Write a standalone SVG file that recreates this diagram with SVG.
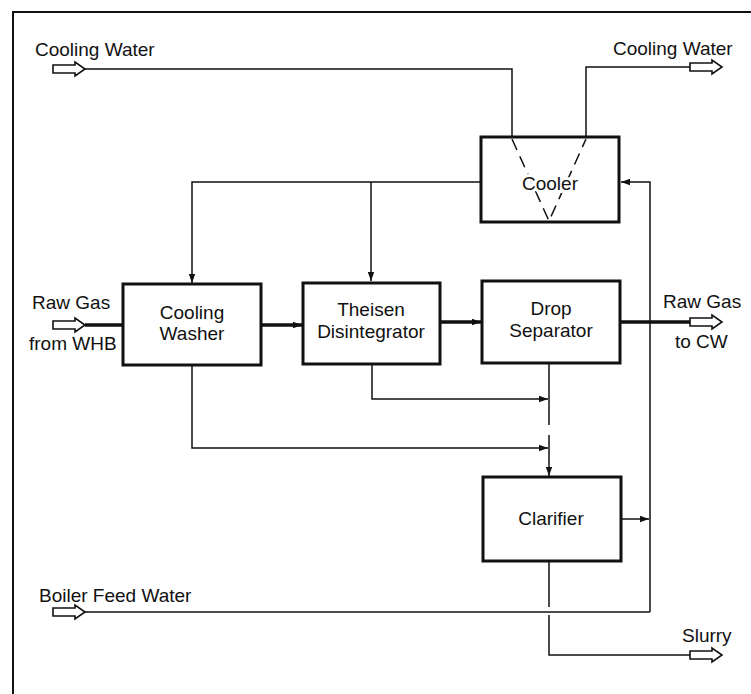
<svg xmlns="http://www.w3.org/2000/svg" width="751" height="694" viewBox="0 0 751 694">
<style>
text{font-family:"Liberation Sans",Arial,sans-serif;font-size:19px;fill:#111}
.c{text-anchor:middle}
.halo{stroke:#fff;stroke-width:6;paint-order:stroke}
.box{fill:#fff;stroke:#111;stroke-width:3}
.ln{fill:none;stroke:#111;stroke-width:1.5}
.gas{fill:none;stroke:#111;stroke-width:3.5}
.hol{fill:#fff;stroke:#111;stroke-width:1.6;stroke-linejoin:miter}
.dash{fill:none;stroke:#111;stroke-width:1.5;stroke-dasharray:12 7}
</style>
<defs>
<marker id="ah" markerWidth="10" markerHeight="8" refX="9" refY="4" orient="auto" markerUnits="userSpaceOnUse">
<path d="M0,0.8 L9,4 L0,7.2 Z" fill="#111"/>
</marker>
<path id="hollow" d="M0,-4 H22 V-7 L32,0 L22,7 V4 H0 Z"/>
</defs>
<rect width="751" height="694" fill="#fff"/>
<g id="frame">
<path d="M13,694 V12 H751" fill="none" stroke="#111" stroke-width="2"/>
</g>
<g id="connectors">
<use href="#hollow" x="53" y="69" class="hol"/>
<path class="ln" d="M85,69 H512 V137"/>
<path class="ln" d="M586,137 V67 H690"/>
<use href="#hollow" x="690" y="67" class="hol"/>
<path class="ln" d="M481,182 H192 V283" marker-end="url(#ah)"/>
<path class="ln" d="M371,182 V281" marker-end="url(#ah)"/>
<path class="ln" d="M650,612 V182 H621" marker-end="url(#ah)"/>
<use href="#hollow" x="53" y="325" class="hol"/>
<path class="gas" d="M85,325 H123"/>
<path class="gas" d="M261,325 H302" marker-end="url(#ah)"/>
<path class="gas" d="M440,322 H481" marker-end="url(#ah)"/>
<path class="gas" d="M620,322 H690"/>
<use href="#hollow" x="690" y="322" class="hol"/>
<path class="ln" d="M372,364 V399 H548" marker-end="url(#ah)"/>
<path class="ln" d="M192,365 V448 H548" marker-end="url(#ah)"/>
<path class="ln" d="M549,363 V425 M549,435 V476" marker-end="url(#ah)"/>
<path class="ln" d="M621,519 H649" marker-end="url(#ah)"/>
<use href="#hollow" x="53" y="612" class="hol"/>
<path class="ln" d="M85,612 H650"/>
<path class="ln" d="M549,561 V607 M549,615 V655 H690"/>
<use href="#hollow" x="690" y="655" class="hol"/>
</g>
<g id="cooler">
<rect class="box" x="481" y="137" width="138" height="85"/>
<path class="dash" d="M512,139 L549,221 L586,139"/>
<text class="c halo" x="550" y="190">Cooler</text>
</g>
<g id="cooling-washer">
<rect class="box" x="123" y="284" width="138" height="81"/>
<text class="c" x="192" y="319">Cooling</text>
<text class="c" x="192" y="340">Washer</text>
</g>
<g id="theisen">
<rect class="box" x="303" y="283" width="137" height="81"/>
<text class="c" x="371" y="316">Theisen</text>
<text class="c" x="371" y="338">Disintegrator</text>
</g>
<g id="drop-separator">
<rect class="box" x="482" y="281" width="138" height="82"/>
<text class="c" x="551" y="315">Drop</text>
<text class="c" x="551" y="337">Separator</text>
</g>
<g id="clarifier">
<rect class="box" x="483" y="477" width="138" height="84"/>
<text class="c" x="551" y="525">Clarifier</text>
</g>
<g id="labels">
<text x="35" y="56">Cooling Water</text>
<text x="613" y="55">Cooling Water</text>
<text x="32" y="309">Raw Gas</text>
<text x="29" y="350">from WHB</text>
<text x="663" y="308">Raw Gas</text>
<text x="675" y="348">to CW</text>
<text x="39" y="602">Boiler Feed Water</text>
<text x="682" y="642">Slurry</text>
</g>
</svg>
